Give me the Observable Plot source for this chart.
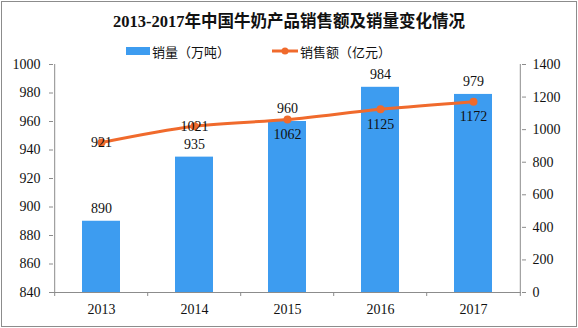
<!DOCTYPE html>
<html>
<head>
<meta charset="utf-8">
<script src="https://cdn.jsdelivr.net/npm/d3@7"></script>
<script src="https://cdn.jsdelivr.net/npm/@observablehq/plot@0.6"></script>
<style>
  html, body { margin: 0; padding: 0; background: #fff; }
  #wrap { position: relative; width: 578px; height: 328px; overflow: hidden; }
  #frame { position: absolute; left: 1px; top: 1px; width: 574px; height: 324px; border: 1px solid #8c8c8c; box-sizing: content-box; pointer-events: none; }
  #title { position: absolute; left: 0; top: 8px; width: 578px; text-align: center;
    font-family: "Liberation Serif", "Noto Sans CJK SC", serif; font-weight: bold; font-size: 16.5px; color: #111; }
  #legend { position: absolute; top: 42px; left: 0; width: 578px; height: 18px;
    font-family: "Liberation Serif", "Noto Sans CJK SC", serif; font-size: 13px; color: #111; }
  .lg { position: absolute; top: 0; display: flex; align-items: center; height: 18px; }
  #plot { position: absolute; left: 0; top: 0; }
</style>
</head>
<body>
<div id="wrap">
  <div id="plot"></div>
  <div id="title">2013-2017年中国牛奶产品销售额及销量变化情况</div>
  <div id="legend">
    <div class="lg" style="left:126px"><span style="display:inline-block;width:24px;height:8px;background:#3d9cf0;margin-right:2px"></span>销量（万吨）</div>
    <div class="lg" style="left:272px"><svg width="26" height="10" style="margin-right:2px"><line x1="0" y1="5" x2="26" y2="5" stroke="#f06a2c" stroke-width="3"/><circle cx="13" cy="5" r="3.5" fill="#f06a2c"/></svg>销售额（亿元）</div>
  </div>
  <div id="frame"></div>
</div>
<script>
const years = ["2013", "2014", "2015", "2016", "2017"];
const volume = [890, 935, 960, 984, 979];        // 销量（万吨）
const revenue = [921, 1021, 1062, 1125, 1172];   // 销售额（亿元）
const leftTicks = [840, 860, 880, 900, 920, 940, 960, 980, 1000];
const rightTicks = [0, 200, 400, 600, 800, 1000, 1200, 1400];

const yMin = 840, yMax = 1000, rMax = 1400;
const toLeft = v => yMin + v / rMax * (yMax - yMin);
const fromLeft = v => String(Math.round((v - yMin) * rMax / (yMax - yMin)));

const data = years.map((y, i) => ({year: y, volume: volume[i], revenue: revenue[i], rl: toLeft(revenue[i])}));

const font = '"Liberation Serif", "Noto Sans CJK SC", serif';
const axisColor = "#8c8c8c";
const fs = 14;
const plotW = 578;
const mL = 53, mR = 57;
const step = (plotW - mL - mR) / years.length;

const chart = Plot.plot({
  width: plotW,
  height: 328,
  marginLeft: mL,
  marginRight: mR,
  marginTop: 64,
  marginBottom: 36,
  style: {fontFamily: font, fontSize: fs + "px", color: "#111", background: "transparent"},
  x: {type: "band", domain: years, paddingInner: 0.594, paddingOuter: 0.297, label: null},
  y: {domain: [yMin, yMax], label: null},
  marks: [
    Plot.barY(data, {x: "year", y1: yMin, y2: "volume", fill: "#3d9cf0"}),
    // axis lines
    Plot.ruleX([yMin], {x: () => years[0], dx: -step / 2, y1: yMin, y2: yMax, stroke: axisColor}),
    Plot.ruleX([yMin], {x: () => years[years.length - 1], dx: step / 2, y1: yMin, y2: yMax, stroke: axisColor}),
    Plot.ruleY([yMin], {stroke: axisColor}),
    // x boundary ticks
    Plot.ruleX(years, {x: d => d, dx: -step / 2, y1: yMin, y2: yMin - 4 / 1.425, stroke: axisColor}),
    Plot.ruleX([years[years.length - 1]], {x: d => d, dx: step / 2, y1: yMin, y2: yMin - 4 / 1.425, stroke: axisColor}),
    Plot.axisX({tickSize: 0, tickPadding: 12, fontSize: fs, fill: "#111"}),
    Plot.axisY(leftTicks, {anchor: "left", tickSize: 4, stroke: axisColor, tickPadding: 9, tickFormat: d => String(d), fontSize: fs, fill: "#111"}),
    Plot.axisY(rightTicks.map(toLeft), {anchor: "right", tickSize: 4, stroke: axisColor, tickPadding: 7, tickFormat: fromLeft, fontSize: fs, fill: "#111"}),
    // line
    Plot.line(data, {x: "year", y: "rl", stroke: "#f06a2c", strokeWidth: 3, curve: "monotone-x"}),
    Plot.dot(data, {x: "year", y: "rl", r: 4, fill: "#f06a2c"}),
    // bar labels
    Plot.text(data, {x: "year", y: "volume", text: d => String(d.volume), dy: -13, fontSize: fs, fill: "#111"}),
    // line labels
    Plot.text(data.slice(0, 2), {x: "year", y: "rl", text: d => String(d.revenue), dy: 0, fontSize: fs, fill: "#111"}),
    Plot.text(data.slice(2), {x: "year", y: "rl", text: d => String(d.revenue), dy: 15, fontSize: fs, fill: "#111"})
  ]
});
document.getElementById("plot").appendChild(chart);
</script>
</body>
</html>
